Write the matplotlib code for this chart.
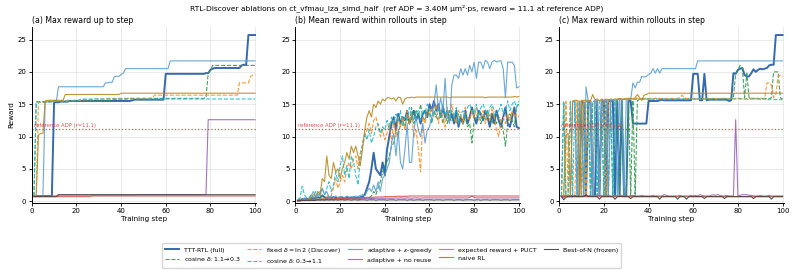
import numpy as np
import matplotlib
matplotlib.use("Agg")
import matplotlib.pyplot as plt

steps = np.arange(1, 101)

# ---- max reward within rollouts of each step (panel c) ----
ttt_max = [0.8, 0.8, 0.8, 0.8, 0.8, 0.8, 0.8, 0.8, 0.8, 15.3,
           15.3, 0.8, 15.4, 15.4, 0.8, 0.8, 15.5, 0.9, 15.5, 15.5,
           0.8, 15.5, 15.5, 15.5, 0.8, 15.5, 0.8, 15.5, 0.8, 0.8,
           15.5, 15.5, 12.0, 12.0, 12.0, 12.0, 12.0, 12.0, 12.0, 15.5,
           15.5, 15.5, 15.5, 15.5, 15.6, 15.7, 15.6, 15.6, 15.6, 15.6,
           15.6, 15.6, 15.6, 15.6, 15.6, 15.6, 15.6, 15.6, 15.6, 19.7,
           19.7, 19.7, 15.6, 15.6, 19.7, 15.6, 15.7, 15.7, 15.7, 15.7,
           15.7, 15.7, 15.7, 15.7, 15.7, 15.5, 15.6, 19.8, 19.7, 20.3,
           20.5, 20.6, 19.5, 19.3, 19.3, 19.8, 20.4, 20.0, 20.3, 20.5,
           20.4, 20.5, 20.6, 21.0, 21.1, 21.1, 25.7, 25.7, 25.7, 25.7]
cos_hi_lo_max = [0.8, 15.3, 0.8, 0.8, 0.8, 0.8, 0.8, 0.8, 15.4, 0.8,
                 15.4, 0.8, 15.4, 0.8, 15.4, 15.5, 0.8, 0.8, 15.5, 0.8,
                 15.5, 0.8, 15.5, 0.8, 15.5, 15.5, 0.8, 15.5, 0.8, 0.8,
                 15.6, 0.8, 15.6, 0.8, 15.6, 15.7, 15.7, 15.8, 15.8, 15.8,
                 15.8, 15.8, 15.9, 15.8, 15.8, 15.8, 15.9, 15.8, 15.8, 15.8,
                 15.8, 15.9, 15.8, 15.8, 15.8, 15.8, 15.9, 15.8, 15.8, 15.8,
                 15.8, 15.8, 15.9, 15.8, 15.8, 15.8, 15.8, 15.8, 15.9, 15.8,
                 15.8, 15.8, 15.8, 15.9, 15.8, 15.8, 15.8, 16.0, 19.8, 20.3,
                 21.0, 20.5, 16.0, 19.8, 16.0, 15.9, 15.9, 15.8, 15.9, 15.8,
                 15.8, 15.9, 15.8, 15.9, 16.0, 20.0, 20.0, 20.0, 16.0, 15.8]
fixed_max = [0.8, 0.8, 15.4, 0.8, 15.4, 0.8, 0.8, 15.5, 15.5, 0.8,
             15.5, 0.8, 15.5, 15.5, 0.8, 15.6, 15.5, 0.8, 15.6, 15.6,
             0.8, 15.6, 15.7, 15.6, 15.7, 15.7, 15.7, 15.8, 15.8, 15.8,
             15.8, 15.8, 15.9, 15.9, 15.9, 15.8, 15.9, 15.9, 15.9, 15.9,
             15.9, 15.8, 15.9, 15.9, 15.9, 15.9, 15.8, 15.9, 15.9, 15.9,
             15.9, 15.9, 15.9, 16.0, 16.4, 16.0, 15.9, 15.9, 15.9, 15.9,
             15.9, 15.9, 15.8, 15.9, 15.9, 15.9, 15.9, 15.9, 15.8, 15.9,
             15.9, 15.9, 15.9, 15.9, 15.9, 15.8, 15.9, 15.9, 15.9, 15.9,
             15.9, 15.9, 15.8, 15.9, 15.9, 15.9, 15.9, 15.9, 15.9, 15.9,
             15.9, 15.9, 18.3, 18.3, 18.0, 16.0, 16.5, 19.3, 19.5, 19.3]
cos_lo_hi_max = [0.8, 15.4, 0.8, 0.8, 15.4, 0.8, 15.4, 0.8, 15.5, 15.4,
                 0.8, 15.5, 15.5, 0.8, 15.4, 15.5, 0.8, 15.5, 15.6, 0.8,
                 15.6, 15.8, 15.6, 0.8, 15.7, 15.7, 15.8, 15.8, 15.7, 15.8,
                 15.8, 15.8, 15.8, 15.7, 15.8, 15.8, 15.8, 15.8, 15.8, 15.8,
                 15.8, 15.8, 15.8, 15.8, 15.7, 15.8, 15.8, 15.8, 15.8, 15.8,
                 15.8, 15.8, 15.8, 15.8, 15.8, 15.8, 15.7, 15.8, 15.8, 15.8,
                 15.8, 15.8, 15.8, 15.8, 15.8, 15.8, 15.8, 15.8, 15.8, 15.7,
                 15.8, 15.8, 15.8, 15.8, 15.8, 15.8, 15.8, 15.8, 15.8, 15.8,
                 15.8, 15.8, 15.8, 15.8, 15.7, 15.8, 15.8, 15.8, 15.8, 15.8,
                 15.8, 15.8, 15.7, 15.7, 15.8, 15.7, 15.7, 15.7, 15.7, 15.7]
eps_max = [0.8, 0.8, 0.8, 0.8, 0.8, 15.4, 15.4, 0.8, 15.4, 15.5,
           0.8, 17.7, 15.5, 15.5, 0.8, 15.5, 15.5, 0.8, 15.5, 15.6,
           15.6, 0.8, 15.6, 15.6, 15.6, 0.8, 15.7, 15.7, 0.8, 15.7,
           15.7, 15.7, 18.3, 17.5, 18.4, 18.4, 19.3, 19.2, 19.3, 19.6,
           19.8, 20.5, 19.8, 20.5, 19.8, 20.5, 20.5, 20.5, 20.5, 20.5,
           20.5, 20.5, 20.5, 20.5, 20.5, 20.5, 20.5, 20.5, 20.5, 20.5,
           20.5, 21.7, 21.7, 21.7, 21.7, 21.7, 21.7, 21.7, 21.7, 21.7,
           21.7, 21.7, 21.7, 21.7, 21.7, 21.7, 21.7, 21.7, 21.7, 21.7,
           21.7, 21.7, 21.7, 21.7, 21.7, 21.7, 21.7, 21.7, 21.7, 21.7,
           21.7, 21.7, 21.7, 21.7, 21.7, 21.7, 21.7, 21.7, 21.7, 21.7]
noreuse_max = [0.7, 0.5, 0.8, 0.7, 0.7, 0.7, 0.8, 0.7, 0.7, 0.8,
               0.8, 0.95, 0.8, 0.9, 0.8, 0.9, 0.8, 0.9, 0.9, 0.8,
               0.8, 0.9, 0.8, 0.8, 0.9, 0.8, 0.8, 0.9, 0.8, 0.8,
               0.8, 0.8, 0.9, 0.8, 0.8, 0.8, 0.9, 0.8, 0.8, 0.8,
               0.8, 0.9, 0.8, 0.8, 0.8, 0.8, 1.0, 0.9, 0.8, 0.8,
               0.8, 0.8, 0.8, 0.9, 0.8, 0.8, 0.8, 0.8, 0.9, 0.8,
               0.9, 0.8, 1.0, 0.9, 0.8, 0.8, 0.8, 0.9, 1.0, 0.9,
               1.0, 0.9, 0.8, 0.8, 0.9, 0.8, 0.8, 0.8, 12.6, 0.8,
               0.9, 1.0, 1.0, 1.0, 0.9, 0.9, 0.8, 0.8, 0.8, 0.9,
               0.8, 0.8, 0.8, 0.9, 0.8, 0.8, 0.8, 0.8, 0.8, 0.8]
puct_max = [0.8, 0.8, 10.2, 10.5, 0.8, 15.5, 15.6, 15.6, 0.8, 15.6,
            15.6, 15.6, 15.6, 15.5, 16.5, 15.7, 15.8, 15.5, 15.8, 15.6,
            15.8, 15.7, 15.8, 15.7, 15.8, 15.8, 15.9, 15.8, 15.8, 15.9,
            15.9, 15.9, 15.8, 16.0, 16.5, 16.0, 15.6, 16.4, 16.5, 16.7,
            16.7, 16.7, 16.7, 16.7, 16.7, 16.7, 16.7, 16.7, 16.7, 16.7,
            16.7, 16.7, 16.7, 16.7, 16.7, 16.7, 16.7, 16.7, 16.7, 16.7,
            16.7, 16.7, 16.7, 16.7, 16.7, 16.7, 16.7, 16.7, 16.7, 16.7,
            16.7, 16.7, 16.7, 16.7, 16.7, 16.7, 16.7, 16.7, 16.7, 16.7,
            16.7, 16.7, 16.7, 16.7, 16.7, 16.7, 16.7, 16.7, 16.7, 16.7,
            16.7, 16.7, 16.7, 16.7, 16.7, 16.7, 16.7, 16.7, 16.7, 16.7]
naive_max = [0.7, 0.7, 0.7, 0.7, 0.7, 0.7, 0.7, 0.7, 0.7, 0.7,
             0.7, 0.7, 0.7, 0.7, 0.7, 0.7, 0.7, 0.7, 0.7, 0.7,
             0.7, 0.7, 0.7, 0.7, 0.7, 0.7, 0.8, 0.7, 0.7, 0.7,
             0.7, 0.7, 0.7, 0.7, 0.7, 0.7, 0.7, 0.7, 0.7, 0.7,
             0.7, 0.7, 0.7, 0.7, 0.7, 0.7, 0.7, 0.7, 0.7, 0.7,
             0.7, 0.7, 0.7, 0.7, 0.7, 0.7, 0.7, 0.7, 0.7, 0.7,
             0.7, 0.7, 0.7, 0.7, 0.7, 0.7, 0.7, 0.7, 0.7, 0.7,
             0.7, 0.7, 0.7, 0.7, 0.7, 0.7, 0.7, 0.7, 0.7, 0.7,
             0.7, 0.7, 0.7, 0.7, 0.7, 0.7, 0.7, 0.7, 0.7, 0.7,
             0.7, 0.7, 0.7, 0.7, 0.7, 0.7, 0.7, 0.7, 0.7, 0.7]
bon_max = [0.7, 0.2, 0.6, 0.7, 0.7, 0.7, 0.7, 0.7, 0.7, 0.7,
           0.7, 1.0, 0.7, 0.7, 0.7, 0.7, 0.7, 0.3, 0.7, 0.7,
           0.7, 0.7, 0.7, 0.7, 0.3, 0.7, 0.7, 0.7, 0.7, 0.7,
           0.7, 0.4, 0.7, 0.7, 0.7, 0.7, 0.7, 0.7, 0.7, 0.7,
           0.7, 0.7, 0.7, 0.7, 0.3, 0.7, 0.7, 0.7, 0.7, 0.7,
           0.7, 0.7, 0.3, 0.7, 0.7, 0.7, 0.3, 0.7, 0.7, 0.7,
           0.7, 0.7, 0.7, 0.7, 0.4, 0.7, 0.7, 0.7, 0.7, 0.7,
           0.7, 0.7, 0.7, 0.4, 0.7, 0.7, 0.7, 0.7, 0.7, 0.7,
           0.7, 0.7, 0.7, 0.7, 0.7, 0.7, 0.4, 0.7, 0.7, 0.7,
           0.7, 0.7, 0.7, 0.7, 0.3, 0.7, 0.7, 0.7, 0.7, 0.7]

# ---- mean reward within rollouts of each step (panel b) ----
ttt_mean = [0.1, 0.2, 0.3, 0.3, 0.4, 0.3, 0.5, 0.4, 0.5, 0.6,
            0.5, 0.9, 0.6, 0.5, 0.6, 0.5, 0.6, 0.5, 0.5, 0.6,
            0.5, 0.5, 0.6, 0.5, 0.5, 0.6, 0.5, 0.5, 0.6, 0.7,
            1.0, 2.0, 3.0, 5.0, 7.5, 5.0, 4.5, 4.0, 6.0, 4.0,
            8.0, 10.0, 12.0, 13.0, 11.0, 13.5, 12.0, 13.0, 12.5, 14.0,
            12.0, 13.0, 14.0, 12.5, 13.5, 12.0, 13.5, 14.0, 13.0, 15.0,
            14.0, 15.5, 14.0, 15.0, 13.0, 14.5, 13.0, 14.0, 12.5, 13.5,
            12.0, 14.0, 11.5, 13.0, 12.0, 14.0, 12.0, 13.0, 14.5, 13.0,
            12.0, 14.0, 13.5, 12.5, 14.0, 13.0, 11.5, 13.5, 12.0, 14.0,
            12.5, 11.5, 13.0, 14.5, 12.0, 11.5, 13.0, 14.5, 11.5, 11.3]
cos_hi_lo_mean = [0.0, 0.1, 0.1, 0.2, 0.1, 0.2, 0.2, 0.3, 0.2, 0.3,
                  0.3, 0.8, 0.4, 0.3, 0.4, 0.3, 0.4, 0.3, 0.4, 0.3,
                  0.4, 0.3, 0.4, 0.4, 0.3, 0.4, 0.4, 0.3, 0.4, 0.4,
                  0.5, 0.4, 0.5, 0.8, 1.5, 1.0, 2.0, 3.0, 4.5, 5.5,
                  6.0, 7.0, 8.5, 9.0, 11.0, 10.0, 12.0, 12.5, 11.5, 13.0,
                  12.0, 14.5, 12.0, 14.0, 13.0, 15.0, 13.0, 12.5, 14.0, 13.5,
                  12.0, 14.0, 13.0, 12.5, 14.0, 12.0, 13.5, 12.0, 14.0, 12.5,
                  13.0, 12.0, 13.5, 12.5, 12.0, 13.0, 11.5, 12.0, 9.0, 12.5,
                  13.0, 14.0, 12.0, 13.0, 12.5, 14.0, 13.0, 12.0, 13.5, 12.0,
                  13.0, 12.5, 11.0, 8.5, 12.0, 13.5, 12.5, 11.5, 14.5, 15.0]
fixed_mean = [0.0, 0.1, 0.1, 0.2, 0.2, 0.2, 0.3, 0.2, 0.3, 0.3,
              0.4, 0.5, 0.4, 0.6, 1.0, 0.8, 2.0, 3.5, 2.0, 3.0,
              4.0, 3.0, 5.0, 6.0, 5.0, 6.5, 7.0, 5.0, 7.5, 8.5,
              10.0, 11.0, 12.0, 10.5, 12.5, 13.0, 11.5, 10.0, 11.0, 9.5,
              10.5, 12.0, 9.0, 12.5, 10.0, 13.0, 11.5, 13.0, 11.0, 14.0,
              12.0, 13.5, 10.0, 11.0, 8.0, 4.5, 13.0, 12.0, 14.0, 13.5,
              14.5, 13.0, 15.0, 12.0, 14.0, 13.0, 11.5, 14.5, 12.5, 15.0,
              13.0, 12.0, 14.0, 13.5, 12.0, 14.5, 13.0, 12.5, 14.0, 13.0,
              14.5, 12.5, 13.0, 14.0, 12.0, 13.5, 12.5, 14.5, 13.0, 11.0,
              10.0, 12.5, 13.0, 12.0, 13.5, 12.5, 14.0, 13.0, 13.5, 13.0]
cos_lo_hi_mean = [0.2, 0.5, 2.3, 1.0, 0.5, 0.5, 1.0, 0.5, 1.5, 0.8,
                  1.5, 2.0, 1.0, 2.0, 3.0, 1.5, 2.5, 4.5, 3.0, 5.5,
                  7.0, 4.0, 5.5, 3.5, 7.0, 6.0, 4.0, 2.5, 6.5, 9.0,
                  10.5, 9.5, 11.0, 9.0, 10.0, 11.5, 12.0, 10.5, 11.5, 11.0,
                  12.5, 11.0, 13.0, 12.0, 13.5, 12.5, 14.0, 11.5, 13.0, 12.5,
                  14.5, 13.0, 12.0, 13.5, 14.0, 12.5, 14.0, 13.5, 15.0, 14.0,
                  12.5, 14.0, 13.0, 14.5, 13.0, 15.0, 13.5, 14.0, 12.5, 14.0,
                  13.0, 14.5, 12.0, 13.5, 14.0, 13.0, 14.5, 15.0, 14.0, 13.5,
                  15.0, 13.0, 14.5, 15.0, 14.0, 13.0, 14.5, 15.0, 14.0, 13.5,
                  14.0, 15.0, 13.5, 14.0, 15.5, 14.0, 15.0, 15.5, 14.5, 15.5]
eps_mean = [0.1, 0.2, 0.3, 0.5, 0.3, 0.4, 0.8, 1.5, 0.6, 1.2,
            0.8, 2.0, 1.0, 1.5, 0.5, 0.7, 0.6, 0.8, 0.5, 0.6,
            0.7, 0.5, 0.8, 0.6, 0.7, 0.6, 0.8, 0.7, 0.9, 1.0,
            0.8, 1.5, 2.0, 1.5, 2.5, 1.5, 3.0, 1.5, 3.5, 4.0,
            5.0, 6.0, 9.0, 10.5, 7.0, 11.0, 6.0, 5.0, 8.0, 12.0,
            6.0, 6.0, 11.0, 13.0, 11.0, 10.0, 12.0, 9.0, 11.0, 11.5,
            13.0, 15.0, 18.0, 14.0, 16.0, 14.0, 19.0, 13.0, 12.0, 18.0,
            19.5, 19.5, 19.0, 20.5, 19.5, 20.5, 19.5, 21.0, 20.0, 21.5,
            19.0, 21.5, 21.5, 20.5, 21.8, 21.5, 20.5, 21.5, 21.8, 21.5,
            21.7, 21.7, 20.5, 16.0, 21.5, 21.5, 21.5, 21.0, 17.5, 17.7]
noreuse_mean = [0.05, 0.05, 0.1, 0.1, 0.1, 0.1, 0.15, 0.15, 0.15, 0.2,
                0.2, 0.2, 0.2, 0.25, 0.25, 0.25, 0.25, 0.3, 0.3, 0.3,
                0.3, 0.3, 0.3, 0.35, 0.35, 0.35, 0.35, 0.35, 0.35, 0.4,
                0.4, 0.4, 0.4, 0.4, 0.4, 0.45, 0.45, 0.45, 0.45, 0.45,
                0.45, 0.45, 0.45, 0.45, 0.5, 0.45, 0.5, 0.5, 0.45, 0.5,
                0.5, 0.45, 0.5, 0.5, 0.5, 0.45, 0.5, 0.5, 0.5, 0.5,
                0.5, 0.5, 0.5, 0.5, 0.5, 0.5, 0.5, 0.5, 0.5, 0.5,
                0.5, 0.5, 0.5, 0.5, 0.5, 0.5, 0.5, 0.55, 0.8, 0.55,
                0.5, 0.5, 0.5, 0.5, 0.5, 0.5, 0.5, 0.5, 0.5, 0.5,
                0.5, 0.5, 0.5, 0.5, 0.5, 0.5, 0.5, 0.5, 0.5, 0.5]
puct_mean = [0.1, 0.1, 0.2, 0.2, 0.3, 0.3, 0.5, 1.0, 0.8, 1.5,
             1.0, 3.5, 3.0, 7.0, 4.0, 3.5, 6.0, 4.5, 5.0, 3.5,
             5.0, 6.0, 7.5, 6.5, 8.5, 7.5, 8.5, 7.0, 5.5, 8.0,
             11.0, 13.0, 14.0, 13.0, 15.0, 14.5, 15.5, 15.0, 15.8, 15.5,
             16.0, 16.0, 15.8, 16.0, 15.5, 16.1, 16.0, 15.0, 15.8, 16.0,
             16.0, 16.1, 16.0, 16.1, 16.1, 16.1, 16.1, 16.1, 16.1, 16.1,
             16.1, 16.1, 16.1, 16.1, 16.1, 16.1, 16.1, 16.1, 16.0, 16.1,
             16.1, 16.1, 16.1, 16.1, 16.1, 16.1, 16.1, 16.1, 16.1, 16.1,
             16.1, 16.1, 16.1, 16.1, 16.0, 16.1, 16.1, 16.1, 16.1, 16.1,
             16.1, 16.1, 16.1, 16.1, 16.1, 16.1, 16.1, 16.2, 16.1, 16.2]
naive_mean = [0.0, 0.05, 0.1, 0.1, 0.15, 0.15, 0.2, 0.2, 0.2, 0.25,
              0.25, 0.3, 0.3, 0.3, 0.35, 0.35, 0.35, 0.4, 0.4, 0.4,
              0.4, 0.45, 0.45, 0.45, 0.5, 0.5, 0.5, 0.5, 0.55, 0.55,
              0.55, 0.6, 0.6, 0.6, 0.6, 0.65, 0.65, 0.65, 0.65, 0.7,
              0.7, 0.7, 0.7, 0.7, 0.75, 0.75, 0.75, 0.75, 0.75, 0.75,
              0.8, 0.8, 0.8, 0.8, 0.8, 0.8, 0.8, 0.8, 0.8, 0.8,
              0.8, 0.8, 0.8, 0.8, 0.8, 0.8, 0.8, 0.8, 0.8, 0.8,
              0.8, 0.8, 0.8, 0.8, 0.8, 0.8, 0.8, 0.8, 0.8, 0.8,
              0.8, 0.8, 0.8, 0.8, 0.8, 0.8, 0.8, 0.8, 0.8, 0.8,
              0.8, 0.8, 0.8, 0.8, 0.8, 0.8, 0.8, 0.8, 0.8, 0.8]
bon_mean = [0.1, 0.1, 0.15, 0.1, 0.15, 0.1, 0.15, 0.1, 0.15, 0.2,
            0.15, 0.2, 0.15, 0.2, 0.15, 0.2, 0.15, 0.2, 0.15, 0.2,
            0.2, 0.15, 0.2, 0.2, 0.15, 0.2, 0.2, 0.15, 0.2, 0.2,
            0.2, 0.15, 0.2, 0.2, 0.2, 0.15, 0.2, 0.2, 0.2, 0.2,
            0.15, 0.2, 0.2, 0.2, 0.15, 0.2, 0.2, 0.2, 0.2, 0.15,
            0.2, 0.2, 0.15, 0.2, 0.2, 0.2, 0.15, 0.2, 0.2, 0.2,
            0.2, 0.15, 0.2, 0.2, 0.2, 0.15, 0.2, 0.2, 0.2, 0.2,
            0.15, 0.2, 0.2, 0.2, 0.15, 0.2, 0.2, 0.2, 0.2, 0.15,
            0.2, 0.2, 0.15, 0.2, 0.2, 0.2, 0.15, 0.2, 0.2, 0.2,
            0.2, 0.15, 0.2, 0.2, 0.2, 0.15, 0.2, 0.2, 0.2, 0.2]

ref_reward = 11.1

# label, max series, mean series, colour, linestyle, linewidth
runs = [
    ("TTT-RTL (full)", ttt_max, ttt_mean, "#1f5aa6", "-", 1.4),
    ("cosine $\\delta$: 1.1→0.3", cos_hi_lo_max, cos_hi_lo_mean, "#2e9a4f", "--", 0.8),
    ("fixed $\\delta = \\ln 2$ (Discover)", fixed_max, fixed_mean, "#ff8c1a", "--", 0.8),
    ("cosine $\\delta$: 0.3→1.1", cos_lo_hi_max, cos_lo_hi_mean, "#1fbccf", "--", 0.8),
    ("adaptive + $\\varepsilon$-greedy", eps_max, eps_mean, "#5a9fd6", "-", 0.8),
    ("adaptive + no reuse", noreuse_max, noreuse_mean, "#9a65b8", "-", 0.8),
    ("expected reward + PUCT", puct_max, puct_mean, "#b8891f", "-", 0.8),
    ("naive RL", naive_max, naive_mean, "#d9534f", "-", 0.8),
    ("Best-of-N (frozen)", bon_max, bon_mean, "#444444", "-", 0.8),
]

fig, axes = plt.subplots(1, 3, figsize=(7.94, 2.7), dpi=100)
fig.subplots_adjust(left=0.040, right=0.987, top=0.899, bottom=0.249, wspace=0.175)

titles = ["(a) Max reward up to step",
          "(b) Mean reward within rollouts in step",
          "(c) Max reward within rollouts in step"]

for i, ax in enumerate(axes):
    for label, mx, mn, col, ls, lw in runs:
        if i == 0:
            y = np.maximum.accumulate(np.array(mx))
        elif i == 1:
            y = np.array(mn)
        else:
            y = np.array(mx)
        ax.plot(steps, y, color=col, ls=ls, lw=lw, alpha=0.9, label=label)
    ax.axhline(ref_reward, color="#d62728", ls=":", lw=0.9, alpha=0.8)
    ax.text(1, ref_reward + 0.35, "reference ADP (r=11.1)", color="#d62728",
            fontsize=3.8, alpha=0.8)
    ax.set_title(titles[i], loc="left", fontsize=5.6, pad=3)
    ax.set_xlabel("Training step", fontsize=5.2, labelpad=1.5)
    ax.set_xlim(0, 100.5)
    ax.set_ylim(-0.25, 26.9)
    ax.set_xticks([0, 20, 40, 60, 80, 100])
    ax.set_yticks([0, 5, 10, 15, 20, 25])
    ax.tick_params(labelsize=5, length=2.5, width=0.6, pad=1.5)
    ax.grid(True, color="#e6e6e6", lw=0.6)
    ax.spines["top"].set_visible(False)
    ax.spines["right"].set_visible(False)
    ax.spines["left"].set_linewidth(0.7)
    ax.spines["bottom"].set_linewidth(0.7)
axes[0].set_ylabel("Reward", fontsize=5.2, labelpad=2)

fig.suptitle("RTL-Discover ablations on ct_vfmau_lza_simd_half  (ref ADP = 3.40M µm²·ps, "
             "reward = 11.1 at reference ADP)", fontsize=5.4, y=0.985)

handles, labels = axes[0].get_legend_handles_labels()
fig.legend(handles, labels, loc="center", bbox_to_anchor=(0.493, 0.054), ncol=5,
           fontsize=4.5, frameon=True, handlelength=2.2, columnspacing=1.1,
           borderpad=0.45, labelspacing=0.4, handletextpad=0.8)

fig.savefig("out.png", dpi=100)
